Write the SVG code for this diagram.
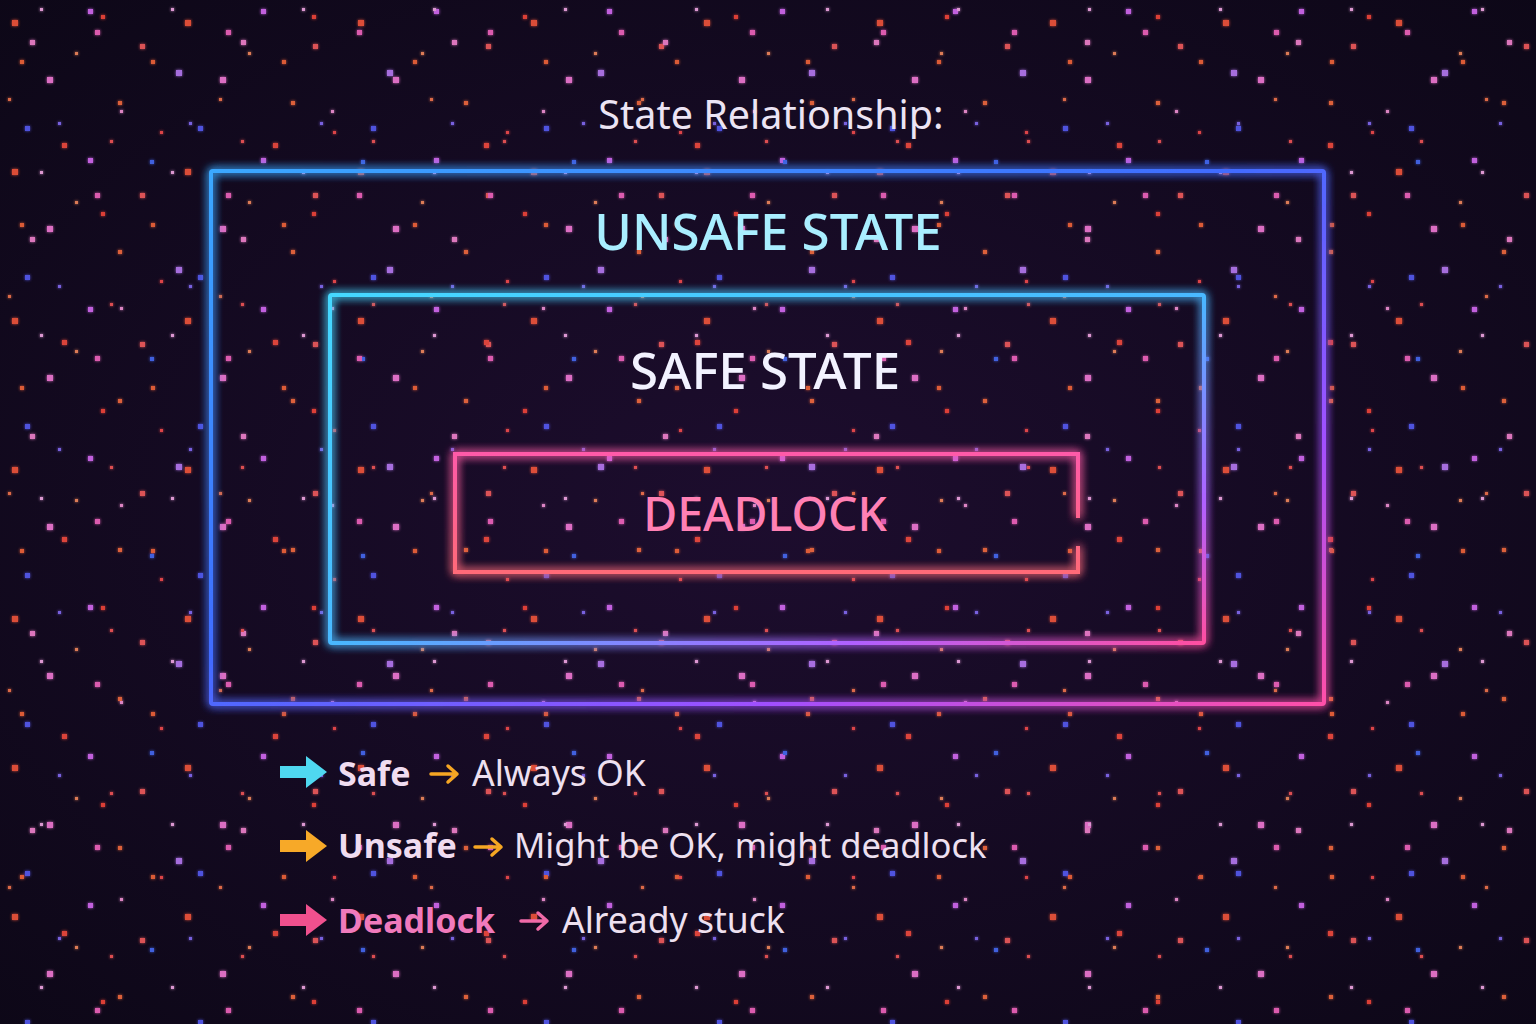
<svg xmlns="http://www.w3.org/2000/svg" width="1536" height="1024" viewBox="0 0 1536 1024">
<defs>
<style>
.t{font-family:"Noto Sans","Open Sans","DejaVu Sans",sans-serif}
.title{font-size:39.5px;fill:#ece4f4}
.big{font-size:51px;font-weight:500}
.leg{font-size:35.5px;fill:#eee0f0}
.legb{font-size:34px;font-weight:700}
.box{fill:none;stroke-width:4;filter:url(#glow)}
.sm{fill:none;stroke-width:3.5;stroke-linecap:round;stroke-linejoin:round}
</style>
<radialGradient id="bg" cx="50%" cy="50%" r="75%">
<stop offset="0" stop-color="#1d0d2e"/>
<stop offset="1" stop-color="#0c0716"/>
</radialGradient>
<linearGradient id="gOuter" x1="0" y1="0" x2="1" y2="1">
<stop offset="0" stop-color="#3aa8ff"/>
<stop offset="0.45" stop-color="#3f6cff"/>
<stop offset="0.75" stop-color="#a050ff"/>
<stop offset="1" stop-color="#ff4fa8"/>
</linearGradient>
<linearGradient id="gMid" x1="0" y1="0" x2="1" y2="1">
<stop offset="0" stop-color="#45d8ff"/>
<stop offset="0.5" stop-color="#48b8ff"/>
<stop offset="0.8" stop-color="#b060ff"/>
<stop offset="1" stop-color="#ff4fa0"/>
</linearGradient>
<linearGradient id="gDead" x1="0" y1="0" x2="0" y2="1">
<stop offset="0" stop-color="#ff5aa8"/>
<stop offset="1" stop-color="#ff6a78"/>
</linearGradient>
<filter id="glow" x="-10%" y="-10%" width="120%" height="120%">
<feGaussianBlur in="SourceGraphic" stdDeviation="5" result="b"/>
<feMerge><feMergeNode in="b"/><feMergeNode in="b"/><feMergeNode in="SourceGraphic"/></feMerge>
</filter>
<filter id="sg" x="-50%" y="-50%" width="200%" height="200%">
<feGaussianBlur stdDeviation="1.8" result="b"/>
<feMerge><feMergeNode in="b"/><feMergeNode in="SourceGraphic"/></feMerge>
</filter>
<pattern id="p1" width="173" height="149" patternUnits="userSpaceOnUse">
<rect x="12" y="20" width="6" height="6" fill="#ff5a3c"/>
<rect x="88" y="9" width="5" height="5" fill="#e070ff"/>
<rect x="140" y="44" width="5" height="5" fill="#ff6060"/>
<rect x="47" y="77" width="6" height="6" fill="#ff80e0"/>
<rect x="118" y="101" width="4" height="4" fill="#ff7040"/>
<rect x="25" y="126" width="5" height="5" fill="#5a60ff"/>
<rect x="160" y="131" width="3" height="3" fill="#ff5050"/>
<rect x="75" y="52" width="3" height="3" fill="#ff9060"/>
</pattern>
<pattern id="p2" width="211" height="197" patternUnits="userSpaceOnUse">
<rect x="30" y="40" width="5" height="5" fill="#ff8ad8"/>
<rect x="101" y="15" width="4" height="4" fill="#ff4a3a"/>
<rect x="176" y="70" width="6" height="6" fill="#c080ff"/>
<rect x="62" y="143" width="5" height="5" fill="#ff5040"/>
<rect x="150" y="160" width="4" height="4" fill="#4a70ff"/>
<rect x="8" y="98" width="3" height="3" fill="#ff7a50"/>
<rect x="120" y="110" width="3" height="3" fill="#ff9ae0"/>
</pattern>
<pattern id="p3" width="131" height="163" patternUnits="userSpaceOnUse">
<rect x="20" y="60" width="4" height="4" fill="#ff6a3a"/>
<rect x="95" y="30" width="5" height="5" fill="#ff6ac8"/>
<rect x="58" y="122" width="3" height="3" fill="#8a70ff"/>
<rect x="110" y="140" width="3" height="3" fill="#ff5a5a"/>
<rect x="40" y="8" width="3" height="3" fill="#ffb0f0"/>
</pattern>
</defs>

<rect width="1536" height="1024" fill="url(#bg)"/>
<g id="stars" filter="url(#sg)" opacity="0.85">
<rect width="1536" height="1024" fill="url(#p1)"/>
<rect width="1536" height="1024" fill="url(#p2)"/>
<rect width="1536" height="1024" fill="url(#p3)"/>
</g>

<text class="t title" x="771" y="129" text-anchor="middle">State Relationship:</text>

<g id="unsafe">
<rect class="box" x="211" y="171" width="1113" height="533" rx="2" stroke="url(#gOuter)"/>
<text class="t big" x="768" y="250" text-anchor="middle" fill="#a9eeff">UNSAFE STATE</text>
</g>

<g id="safe">
<rect class="box" x="330" y="295" width="874" height="348" rx="2" stroke="url(#gMid)"/>
<text class="t big" x="765" y="389" text-anchor="middle" fill="#f2f2ff">SAFE STATE</text>
</g>

<g id="deadlock">
<path class="box" d="M1078,518 V454 H455 V572 H1078 V546" stroke="url(#gDead)"/>
<text class="t big" x="765" y="531" text-anchor="middle" fill="#ff80b4" style="font-size:46.5px">DEADLOCK</text>
</g>

<g id="legend">
<path d="M280,766 H306 V756 L327,772 L306,788 V778 H280 Z" fill="#4fd8f0"/>
<text class="t legb" x="338" y="786" fill="#f0dcf0">Safe</text>
<path class="sm" d="M431,774 H457 M448,766 L457,774 L448,782" stroke="#f5a623"/>
<text class="t leg" x="472" y="786">Always OK</text>

<path d="M280,840 H306 V830 L327,846 L306,862 V852 H280 Z" fill="#f7a928"/>
<text class="t legb" x="338" y="858" fill="#f0dcf0">Unsafe</text>
<path class="sm" d="M475,847 H501 M492,839 L501,847 L492,855" stroke="#f5a623"/>
<text class="t leg" x="514" y="858" style="font-size:34.6px">Might be OK, might deadlock</text>

<path d="M280,914 H306 V904 L327,920 L306,936 V926 H280 Z" fill="#f0508e"/>
<text class="t legb" x="338" y="933" fill="#f07abc">Deadlock</text>
<path class="sm" d="M521,921 H547 M538,913 L547,921 L538,929" stroke="#f06aa8"/>
<text class="t leg" x="562" y="933">Already stuck</text>
</g>
</svg>
